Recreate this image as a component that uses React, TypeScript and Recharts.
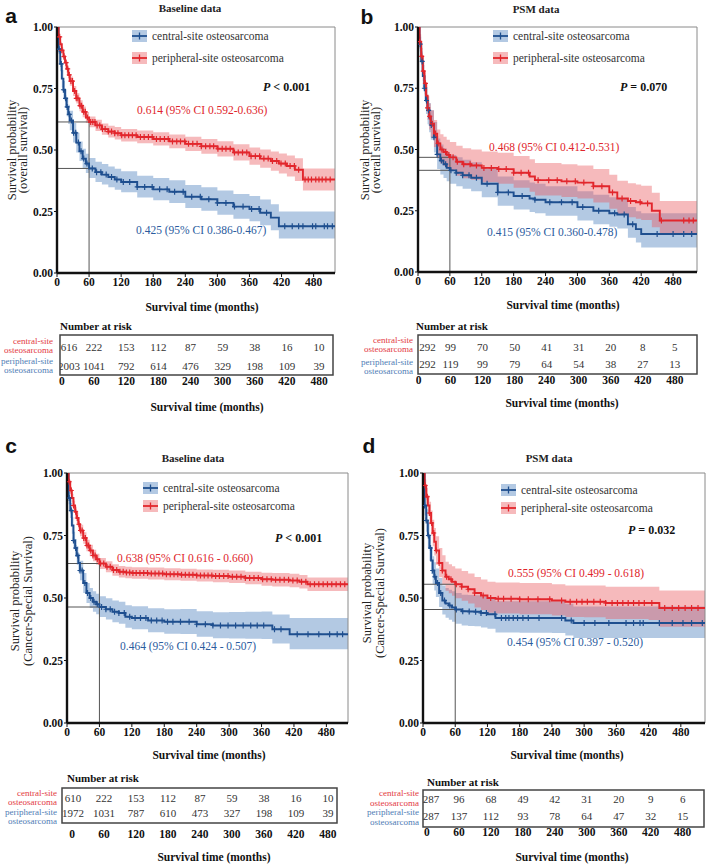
import React from "react";
import {
  ComposedChart,
  Area,
  Line,
  Scatter,
  XAxis,
  YAxis,
  ReferenceLine,
  ReferenceArea,
} from "recharts";

const SERIF = '"Liberation Serif", "Times New Roman", serif';
const SANS = '"Liberation Sans", Arial, sans-serif';

const RED = "#e2262c";
const BLUE = "#1f4f8f";
const RED_BAND = "#ea5a60";
const BLUE_BAND = "#4a7fbd";
const RED_TEXT = "#e0252b";
const BLUE_TEXT = "#2b5b9e";
const ROW_RED = "#e33a3f";
const ROW_BLUE = "#4f7db5";

const X_TICKS = [0, 60, 120, 180, 240, 300, 360, 420, 480];
const Y_TICKS = [0, 0.25, 0.5, 0.75, 1];
const RISK_TIMES = [0, 60, 120, 180, 240, 300, 360, 420, 480];

// ---- a: overall survival, baseline cohort ----
const TIMES_A = [0, 3, 6, 9, 12, 15, 18, 21, 24, 30, 36, 42, 48, 54, 60, 72, 84, 96, 108, 120, 150, 180, 210, 240, 270, 300, 330, 360, 380, 400, 415, 430, 445, 460, 520];
const RED_A = [1, 0.96, 0.93, 0.905, 0.88, 0.855, 0.83, 0.805, 0.78, 0.74, 0.71, 0.68, 0.655, 0.632, 0.614, 0.6, 0.585, 0.575, 0.568, 0.56, 0.553, 0.545, 0.535, 0.525, 0.515, 0.505, 0.49, 0.475, 0.465, 0.455, 0.445, 0.435, 0.42, 0.38, 0.38];
const RED_A_LO = [1, 0.95, 0.92, 0.893, 0.866, 0.84, 0.814, 0.787, 0.761, 0.72, 0.689, 0.658, 0.633, 0.61, 0.592, 0.577, 0.562, 0.551, 0.543, 0.535, 0.527, 0.518, 0.507, 0.496, 0.485, 0.474, 0.457, 0.44, 0.428, 0.416, 0.404, 0.392, 0.374, 0.335, 0.335];
const RED_A_HI = [1, 0.97, 0.94, 0.917, 0.894, 0.87, 0.846, 0.823, 0.799, 0.76, 0.731, 0.702, 0.677, 0.654, 0.636, 0.623, 0.608, 0.599, 0.593, 0.585, 0.579, 0.572, 0.563, 0.554, 0.545, 0.536, 0.523, 0.51, 0.502, 0.494, 0.486, 0.478, 0.466, 0.425, 0.425];
const BLUE_A = [1, 0.91, 0.85, 0.79, 0.745, 0.71, 0.675, 0.645, 0.62, 0.57, 0.53, 0.495, 0.465, 0.445, 0.425, 0.41, 0.4, 0.39, 0.38, 0.37, 0.35, 0.34, 0.33, 0.31, 0.3, 0.285, 0.27, 0.26, 0.245, 0.225, 0.19, 0.19, 0.19, 0.19, 0.19];
const BLUE_A_LO = [1, 0.89, 0.82, 0.755, 0.71, 0.673, 0.637, 0.606, 0.58, 0.53, 0.49, 0.455, 0.426, 0.406, 0.386, 0.37, 0.36, 0.349, 0.338, 0.328, 0.307, 0.296, 0.285, 0.264, 0.253, 0.237, 0.221, 0.21, 0.194, 0.174, 0.14, 0.14, 0.14, 0.14, 0.14];
const BLUE_A_HI = [1, 0.93, 0.88, 0.825, 0.78, 0.747, 0.713, 0.684, 0.66, 0.61, 0.57, 0.535, 0.505, 0.485, 0.467, 0.452, 0.443, 0.433, 0.424, 0.414, 0.395, 0.386, 0.377, 0.358, 0.349, 0.335, 0.321, 0.313, 0.299, 0.279, 0.25, 0.25, 0.25, 0.25, 0.25];
const CENS_RED_A = [5, 9, 13, 17, 20, 23, 26, 29, 33, 36, 39, 43, 46, 50, 53, 57, 63, 67, 71, 75, 80, 85, 90, 96, 102, 108, 114, 121, 127, 134, 141, 148, 156, 163, 171, 178, 186, 193, 201, 208, 216, 224, 231, 239, 246, 254, 262, 270, 278, 286, 293, 301, 309, 316, 324, 332, 339, 347, 355, 363, 371, 379, 387, 395, 403, 411, 419, 427, 436, 444, 452, 464, 470, 476, 484, 490, 496, 503, 511];
const CENS_BLUE_A = [4, 8, 12, 16, 19, 23, 27, 31, 35, 40, 45, 50, 56, 66, 74, 82, 92, 102, 112, 124, 136, 150, 164, 178, 192, 206, 220, 236, 252, 268, 284, 300, 316, 332, 348, 364, 378, 392, 426, 440, 452, 460, 478, 484, 500, 506, 515];
const RISK_CENTRAL_A = [616, 222, 153, 112, 87, 59, 38, 16, 10];
const RISK_PERIPH_A = [2003, 1041, 792, 614, 476, 329, 198, 109, 39];

// ---- b: overall survival, matched cohort ----
const TIMES_B = [0, 3, 6, 9, 12, 15, 18, 21, 24, 30, 36, 42, 48, 54, 60, 72, 84, 100, 120, 150, 180, 210, 220, 240, 270, 300, 330, 360, 375, 395, 410, 420, 440, 455, 525];
const RED_B = [1, 0.94, 0.88, 0.82, 0.77, 0.72, 0.67, 0.635, 0.605, 0.565, 0.525, 0.5, 0.49, 0.478, 0.468, 0.45, 0.44, 0.435, 0.425, 0.42, 0.405, 0.39, 0.375, 0.375, 0.37, 0.365, 0.35, 0.325, 0.3, 0.29, 0.285, 0.28, 0.25, 0.21, 0.21];
const RED_B_LO = [1, 0.91, 0.845, 0.78, 0.725, 0.672, 0.62, 0.582, 0.55, 0.51, 0.468, 0.443, 0.433, 0.421, 0.412, 0.393, 0.383, 0.377, 0.366, 0.36, 0.344, 0.328, 0.312, 0.312, 0.306, 0.3, 0.284, 0.258, 0.233, 0.223, 0.217, 0.212, 0.183, 0.155, 0.155];
const RED_B_HI = [1, 0.97, 0.915, 0.86, 0.815, 0.768, 0.72, 0.688, 0.66, 0.62, 0.582, 0.562, 0.552, 0.54, 0.531, 0.515, 0.505, 0.5, 0.492, 0.487, 0.473, 0.46, 0.445, 0.445, 0.44, 0.435, 0.42, 0.397, 0.372, 0.362, 0.357, 0.352, 0.323, 0.29, 0.29];
const BLUE_B = [1, 0.93, 0.86, 0.8, 0.75, 0.7, 0.66, 0.63, 0.6, 0.55, 0.48, 0.455, 0.44, 0.425, 0.415, 0.405, 0.395, 0.385, 0.36, 0.325, 0.31, 0.3, 0.295, 0.285, 0.285, 0.265, 0.25, 0.24, 0.235, 0.195, 0.175, 0.155, 0.155, 0.155, 0.155];
const BLUE_B_LO = [1, 0.9, 0.82, 0.755, 0.7, 0.645, 0.603, 0.57, 0.54, 0.488, 0.42, 0.398, 0.384, 0.37, 0.36, 0.35, 0.34, 0.33, 0.305, 0.27, 0.255, 0.245, 0.24, 0.23, 0.23, 0.21, 0.195, 0.185, 0.178, 0.14, 0.12, 0.1, 0.1, 0.1, 0.1];
const BLUE_B_HI = [1, 0.96, 0.9, 0.845, 0.8, 0.755, 0.717, 0.69, 0.66, 0.612, 0.545, 0.52, 0.505, 0.488, 0.478, 0.468, 0.458, 0.448, 0.423, 0.39, 0.375, 0.365, 0.36, 0.35, 0.35, 0.33, 0.315, 0.305, 0.3, 0.265, 0.248, 0.24, 0.24, 0.24, 0.24];
const CENS_RED_B = [3, 7, 10, 14, 18, 22, 27, 33, 38, 45, 52, 58, 66, 74, 86, 98, 110, 124, 138, 152, 166, 180, 194, 208, 226, 246, 262, 280, 296, 312, 330, 346, 366, 384, 400, 418, 432, 458, 500, 510, 518];
const CENS_BLUE_B = [4, 8, 12, 16, 20, 25, 30, 36, 44, 52, 62, 72, 84, 96, 110, 130, 150, 170, 196, 220, 248, 270, 290, 310, 340, 370, 388, 404, 450, 480, 500, 515];
const RISK_CENTRAL_B = [292, 99, 70, 50, 41, 31, 20, 8, 5];
const RISK_PERIPH_B = [292, 119, 99, 79, 64, 54, 38, 27, 13];

// ---- c: cancer-specific survival, baseline cohort ----
const TIMES_C = [0, 3, 6, 9, 12, 15, 18, 21, 24, 30, 36, 42, 48, 54, 60, 72, 84, 96, 108, 120, 150, 180, 210, 240, 270, 300, 330, 360, 380, 412, 430, 445, 520];
const RED_C = [1, 0.965, 0.93, 0.9, 0.87, 0.845, 0.82, 0.795, 0.77, 0.74, 0.71, 0.69, 0.67, 0.655, 0.638, 0.625, 0.612, 0.605, 0.602, 0.6, 0.598, 0.595, 0.593, 0.59, 0.588, 0.585, 0.58, 0.575, 0.573, 0.57, 0.565, 0.555, 0.555];
const RED_C_LO = [1, 0.955, 0.915, 0.883, 0.851, 0.825, 0.799, 0.773, 0.747, 0.717, 0.687, 0.667, 0.647, 0.633, 0.616, 0.603, 0.589, 0.582, 0.579, 0.577, 0.574, 0.571, 0.569, 0.566, 0.563, 0.56, 0.555, 0.549, 0.546, 0.543, 0.538, 0.528, 0.528];
const RED_C_HI = [1, 0.975, 0.945, 0.917, 0.889, 0.865, 0.841, 0.817, 0.793, 0.763, 0.733, 0.713, 0.693, 0.677, 0.66, 0.647, 0.635, 0.628, 0.625, 0.623, 0.622, 0.619, 0.617, 0.614, 0.613, 0.61, 0.605, 0.601, 0.6, 0.597, 0.592, 0.582, 0.582];
const BLUE_C = [1, 0.9, 0.85, 0.79, 0.73, 0.7, 0.67, 0.64, 0.61, 0.56, 0.52, 0.5, 0.485, 0.475, 0.464, 0.455, 0.445, 0.44, 0.425, 0.42, 0.41, 0.405, 0.405, 0.395, 0.39, 0.39, 0.39, 0.39, 0.375, 0.355, 0.355, 0.355, 0.355];
const BLUE_C_LO = [1, 0.875, 0.82, 0.757, 0.695, 0.664, 0.633, 0.602, 0.571, 0.52, 0.48, 0.46, 0.445, 0.435, 0.424, 0.414, 0.403, 0.397, 0.381, 0.375, 0.363, 0.357, 0.356, 0.345, 0.339, 0.338, 0.337, 0.336, 0.318, 0.295, 0.295, 0.295, 0.295];
const BLUE_C_HI = [1, 0.925, 0.88, 0.823, 0.765, 0.736, 0.707, 0.678, 0.649, 0.6, 0.56, 0.54, 0.527, 0.517, 0.507, 0.499, 0.49, 0.485, 0.471, 0.467, 0.459, 0.455, 0.456, 0.447, 0.443, 0.444, 0.445, 0.446, 0.434, 0.42, 0.42, 0.42, 0.42];
const CENS_RED_C = [4, 8, 12, 16, 19, 22, 25, 28, 31, 34, 37, 40, 44, 48, 52, 56, 62, 68, 74, 80, 86, 92, 98, 104, 110, 116, 122, 128, 135, 142, 149, 156, 163, 170, 177, 184, 191, 198, 205, 212, 219, 226, 233, 240, 247, 254, 261, 268, 275, 282, 290, 298, 306, 314, 322, 330, 338, 346, 354, 362, 370, 378, 386, 394, 402, 410, 418, 426, 434, 442, 450, 458, 466, 474, 482, 490, 498, 506, 514];
const CENS_BLUE_C = [4, 8, 12, 16, 20, 24, 28, 33, 38, 44, 50, 56, 64, 72, 80, 88, 96, 106, 116, 126, 136, 146, 156, 166, 176, 186, 196, 210, 226, 240, 256, 270, 284, 298, 312, 326, 340, 352, 364, 384, 396, 426, 446, 466, 486, 500, 510];
const RISK_CENTRAL_C = [610, 222, 153, 112, 87, 59, 38, 16, 10];
const RISK_PERIPH_C = [1972, 1031, 787, 610, 473, 327, 198, 109, 39];

// ---- d: cancer-specific survival, matched cohort ----
const TIMES_D = [0, 3, 6, 9, 12, 15, 18, 21, 24, 30, 36, 42, 48, 54, 60, 72, 84, 96, 108, 120, 135, 180, 240, 265, 280, 300, 340, 420, 440, 525];
const RED_D = [1, 0.95, 0.905, 0.87, 0.84, 0.8, 0.76, 0.725, 0.69, 0.64, 0.61, 0.585, 0.575, 0.565, 0.555, 0.545, 0.535, 0.52, 0.51, 0.5, 0.497, 0.495, 0.49, 0.485, 0.485, 0.485, 0.48, 0.48, 0.46, 0.46];
const RED_D_LO = [1, 0.925, 0.87, 0.83, 0.795, 0.75, 0.707, 0.67, 0.633, 0.583, 0.553, 0.529, 0.519, 0.509, 0.499, 0.489, 0.478, 0.462, 0.452, 0.441, 0.438, 0.435, 0.43, 0.424, 0.424, 0.423, 0.416, 0.412, 0.385, 0.385];
const RED_D_HI = [1, 0.975, 0.94, 0.91, 0.885, 0.85, 0.813, 0.78, 0.747, 0.7, 0.671, 0.645, 0.635, 0.627, 0.618, 0.608, 0.598, 0.584, 0.574, 0.565, 0.562, 0.56, 0.555, 0.55, 0.55, 0.55, 0.545, 0.545, 0.53, 0.53];
const BLUE_D = [1, 0.87, 0.81, 0.75, 0.7, 0.65, 0.61, 0.585, 0.56, 0.52, 0.49, 0.478, 0.47, 0.462, 0.454, 0.447, 0.446, 0.445, 0.44, 0.435, 0.42, 0.42, 0.42, 0.41, 0.4, 0.4, 0.4, 0.4, 0.4, 0.4];
const BLUE_D_LO = [1, 0.83, 0.765, 0.7, 0.648, 0.596, 0.555, 0.53, 0.504, 0.464, 0.434, 0.421, 0.413, 0.405, 0.397, 0.39, 0.388, 0.387, 0.382, 0.377, 0.362, 0.361, 0.36, 0.35, 0.34, 0.34, 0.34, 0.34, 0.34, 0.34];
const BLUE_D_HI = [1, 0.91, 0.855, 0.8, 0.752, 0.705, 0.667, 0.643, 0.618, 0.58, 0.55, 0.54, 0.533, 0.527, 0.52, 0.513, 0.512, 0.511, 0.506, 0.5, 0.487, 0.487, 0.487, 0.477, 0.466, 0.466, 0.466, 0.466, 0.466, 0.466];
const CENS_RED_D = [4, 8, 12, 16, 20, 25, 30, 36, 44, 52, 62, 72, 84, 96, 112, 126, 140, 150, 164, 180, 196, 214, 236, 258, 274, 286, 296, 306, 318, 330, 340, 352, 362, 372, 382, 392, 402, 412, 426, 450, 464, 476, 488, 500, 512];
const CENS_BLUE_D = [3, 6, 10, 14, 18, 22, 27, 33, 40, 50, 62, 74, 86, 98, 108, 118, 134, 146, 154, 160, 168, 176, 186, 196, 216, 258, 276, 300, 320, 346, 378, 392, 404, 410, 440, 464, 484, 500, 520];
const RISK_CENTRAL_D = [287, 96, 68, 49, 42, 31, 20, 9, 6];
const RISK_PERIPH_D = [287, 137, 112, 93, 78, 64, 47, 32, 15];

const P_TEXT = ["< 0.001", "= 0.070", "< 0.001", "= 0.032"];
const TITLES = ["Baseline data", "PSM data", "Baseline data", "PSM data"];
const LETTERS = ["a", "b", "c", "d"];
const Y_SUB = ["(overall survival)", "(overall survival)", "(Cancer-Special Survival)", "(Cancer-Special Survival)"];
const CI_SEP = ["-", "-", " - ", " - "];

const KM = [
  { times: TIMES_A, red: RED_A, redLo: RED_A_LO, redHi: RED_A_HI, blue: BLUE_A, blueLo: BLUE_A_LO, blueHi: BLUE_A_HI, redCens: CENS_RED_A, blueCens: CENS_BLUE_A, central: RISK_CENTRAL_A, periph: RISK_PERIPH_A },
  { times: TIMES_B, red: RED_B, redLo: RED_B_LO, redHi: RED_B_HI, blue: BLUE_B, blueLo: BLUE_B_LO, blueHi: BLUE_B_HI, redCens: CENS_RED_B, blueCens: CENS_BLUE_B, central: RISK_CENTRAL_B, periph: RISK_PERIPH_B },
  { times: TIMES_C, red: RED_C, redLo: RED_C_LO, redHi: RED_C_HI, blue: BLUE_C, blueLo: BLUE_C_LO, blueHi: BLUE_C_HI, redCens: CENS_RED_C, blueCens: CENS_BLUE_C, central: RISK_CENTRAL_C, periph: RISK_PERIPH_C },
  { times: TIMES_D, red: RED_D, redLo: RED_D_LO, redHi: RED_D_HI, blue: BLUE_D, blueLo: BLUE_D_LO, blueHi: BLUE_D_HI, redCens: CENS_RED_D, blueCens: CENS_BLUE_D, central: RISK_CENTRAL_D, periph: RISK_PERIPH_D },
];

// page positions of each panel's plot box, risk table and annotations
const LAYOUT = [
  {
    plot: { left: 57, top: 27, right: 335, bottom: 273 }, xMax: 520,
    letter: [11, 15], title: [190, 8], legend: { x: 132, y: [36, 58] }, p: [263, 87],
    ciRed: [137, 110], ciBlue: [136, 230], yLab: { x: [12, 23], y: 150 }, xTitle: [202, 307],
    box: { left: 60, top: 335, right: 333, bottom: 375 }, boxDomain: [-3.7, 506], rowY: [0.7, 0.225], firstDx: 7, tickMargin: 2,
    nar: [60, 326], rowLab: { x: 53, y: [341, 350, 361, 370] }, tTitle: [207, 407],
  },
  {
    plot: { left: 418, top: 27, right: 697, bottom: 272 }, xMax: 525,
    letter: [367, 16], title: [536, 9], legend: { x: 493, y: [36, 58] }, p: [620, 87],
    ciRed: [489, 147], ciBlue: [487, 232], yLab: { x: [365, 376], y: 150 }, xTitle: [563, 305],
    box: { left: 418, top: 335, right: 697, bottom: 374 }, boxDomain: [-1, 521.5], rowY: [0.7, 0.25], firstDx: 9, tickMargin: 2,
    nar: [416, 326], rowLab: { x: 413, y: [340, 349, 362, 371] }, tTitle: [562, 403],
  },
  {
    plot: { left: 67, top: 473, right: 348, bottom: 723 }, xMax: 520,
    letter: [11, 445], title: [193, 458], legend: { x: 143, y: [488, 506] }, p: [275, 538],
    ciRed: [117, 558], ciBlue: [120, 646], yLab: { x: [15, 28], y: 601 }, xTitle: [209, 755],
    box: { left: 62, top: 788, right: 337, bottom: 823 }, boxDomain: [-18.8, 497], rowY: [0.714, 0.286], firstDx: 1, tickMargin: 7,
    nar: [67, 778], rowLab: { x: 57, y: [793, 802, 812, 821] }, tTitle: [214, 857],
  },
  {
    plot: { left: 423, top: 473, right: 705, bottom: 723 }, xMax: 525,
    letter: [369, 445], title: [549, 458], legend: { x: 501, y: [490, 508] }, p: [628, 530],
    ciRed: [508, 573], ciBlue: [507, 642], yLab: { x: [367, 380], y: 593 }, xTitle: [567, 755],
    box: { left: 423, top: 790, right: 704, bottom: 827 }, boxDomain: [-7.5, 520], rowY: [0.757, 0.297], firstDx: 4, tickMargin: 1,
    nar: [427, 782], rowLab: { x: 419, y: [793, 803, 812, 822] }, tTitle: [572, 857],
  },
];

const Y_W = 44;
const PAD_T = 6;
const PAD_R = 6;
const X_H = 24;

const TICK = { fontSize: 11.5, fontFamily: SERIF, fontWeight: 700, fill: "#111" };

// value of a step curve at time t (last recorded value at or before t)
function stepAt(times: number[], vals: number[], t: number) {
  let v = vals[0];
  for (let i = 0; i < times.length; i++) {
    if (times[i] <= t) v = vals[i];
    else break;
  }
  return v;
}

// censoring tick: a small "+" in the series colour
function PlusMark(props: any) {
  const { cx, cy, fill } = props;
  if (cx == null || cy == null) return null;
  return <path d={`M${cx - 2.5},${cy}h5M${cx},${cy - 3}v6`} stroke={fill} strokeWidth={1.2} fill="none" />;
}

function KmPlot({ km, lay }: { km: any; lay: any }) {
  const { left, top, right, bottom } = lay.plot;
  const rows = km.times.map((t: number, i: number) => ({
    t,
    red: km.red[i],
    blue: km.blue[i],
    redBand: [km.redLo[i], km.redHi[i]],
    blueBand: [km.blueLo[i], km.blueHi[i]],
  }));
  const redCens = km.redCens.map((t: number) => ({ t, s: stepAt(km.times, km.red, t) }));
  const blueCens = km.blueCens.map((t: number) => ({ t, s: stepAt(km.times, km.blue, t) }));
  const r60 = stepAt(km.times, km.red, 60);
  const b60 = stepAt(km.times, km.blue, 60);
  const axis = { stroke: "#111", strokeWidth: 2.4 };

  return (
    <div style={{ position: "absolute", left: left - Y_W, top: top - PAD_T }}>
      <ComposedChart
        width={right - left + Y_W + PAD_R}
        height={bottom - top + PAD_T + X_H}
        data={rows}
        margin={{ top: PAD_T, right: PAD_R, bottom: 0, left: 0 }}
      >
        <XAxis
          type="number"
          dataKey="t"
          domain={[0, lay.xMax]}
          ticks={X_TICKS}
          interval={0}
          allowDataOverflow
          height={X_H}
          tickSize={4}
          tickMargin={1}
          axisLine={axis}
          tickLine={{ stroke: "#111" }}
          tick={TICK}
        />
        <YAxis
          type="number"
          domain={[0, 1]}
          ticks={Y_TICKS}
          interval={0}
          allowDataOverflow
          width={Y_W}
          tickSize={3}
          tickMargin={1}
          tickFormatter={(v: number) => v.toFixed(2)}
          axisLine={axis}
          tickLine={{ stroke: "#111" }}
          tick={TICK}
        />
        <ReferenceLine y={1} stroke="#8a8a8a" strokeWidth={1} />
        <ReferenceLine x={lay.xMax} stroke="#8a8a8a" strokeWidth={1} />
        <Area type="stepAfter" dataKey="blueBand" stroke="none" fill={BLUE_BAND} fillOpacity={0.42} isAnimationActive={false} />
        <Area type="stepAfter" dataKey="redBand" stroke="none" fill={RED_BAND} fillOpacity={0.42} isAnimationActive={false} />
        <ReferenceLine segment={[{ x: 60, y: 0 }, { x: 60, y: Math.max(r60, b60) }]} stroke="#555" strokeWidth={1} />
        <ReferenceLine segment={[{ x: 0, y: r60 }, { x: 60, y: r60 }]} stroke="#555" strokeWidth={1} />
        <ReferenceLine segment={[{ x: 0, y: b60 }, { x: 60, y: b60 }]} stroke="#555" strokeWidth={1} />
        <Line type="stepAfter" dataKey="blue" stroke={BLUE} strokeWidth={1.9} dot={false} isAnimationActive={false} />
        <Line type="stepAfter" dataKey="red" stroke={RED} strokeWidth={1.9} dot={false} isAnimationActive={false} />
        <Scatter data={blueCens} dataKey="s" fill={BLUE} shape={PlusMark} isAnimationActive={false} />
        <Scatter data={redCens} dataKey="s" fill={RED} shape={PlusMark} isAnimationActive={false} />
      </ComposedChart>
    </div>
  );
}

function RiskTable({ km, lay }: { km: any; lay: any }) {
  const { left, top, right, bottom } = lay.box;
  const pad = 2;
  const cells = [
    ...km.central.map((n: number, i: number) => ({ t: RISK_TIMES[i], v: lay.rowY[0], n })),
    ...km.periph.map((n: number, i: number) => ({ t: RISK_TIMES[i], v: lay.rowY[1], n })),
  ];
  const Cell = (props: any) => {
    const { cx, cy, payload } = props;
    if (cx == null) return null;
    return (
      <text
        x={cx + (payload.t === 0 ? lay.firstDx : 0)}
        y={cy}
        textAnchor="middle"
        dominantBaseline="central"
        fontFamily={SERIF}
        fontSize={11}
        fill="#333"
      >
        {payload.n}
      </text>
    );
  };
  return (
    <div style={{ position: "absolute", left: left - pad, top: top - pad }}>
      <ComposedChart
        width={right - left + pad * 2}
        height={bottom - top + pad + 22}
        margin={{ top: pad, right: pad, bottom: 0, left: pad }}
      >
        <XAxis
          type="number"
          dataKey="t"
          domain={lay.boxDomain}
          ticks={X_TICKS}
          interval={0}
          allowDataOverflow
          height={22}
          tickSize={0}
          tickMargin={lay.tickMargin}
          axisLine={false}
          tick={TICK}
        />
        <YAxis type="number" domain={[0, 1]} hide />
        <ReferenceArea
          x1={lay.boxDomain[0]}
          x2={lay.boxDomain[1]}
          y1={0}
          y2={1}
          fill="none"
          fillOpacity={0}
          stroke="#444"
          strokeWidth={1.5}
        />
        <Scatter data={cells} dataKey="v" shape={Cell} isAnimationActive={false} />
      </ComposedChart>
    </div>
  );
}

// "0.614 (95% CI 0.592-0.636)" at 60 months
function ciLabel(times: number[], est: number[], lo: number[], hi: number[], sep: string) {
  const e = stepAt(times, est, 60).toFixed(3);
  const l = stepAt(times, lo, 60).toFixed(3);
  const h = stepAt(times, hi, 60).toFixed(3);
  return `${e} (95% CI ${l}${sep}${h})`;
}

function Swatch({ x, y, band, line }: { x: number; y: number; band: string; line: string }) {
  return (
    <g>
      <rect x={x} y={y - 6} width={15} height={12} fill={band} fillOpacity={0.42} />
      <line x1={x} x2={x + 15} y1={y} y2={y} stroke={line} strokeWidth={1.8} />
      <path d={`M${x + 7.5},${y - 3.5}v7`} stroke={line} strokeWidth={1.3} />
    </g>
  );
}

function Annotations({ km, lay, i }: { km: any; lay: any; i: number }) {
  const lab = { fontFamily: SERIF, fontSize: 11.5, dominantBaseline: "central" as const };
  return (
    <g>
      <text x={lay.letter[0]} y={lay.letter[1]} textAnchor="middle" dominantBaseline="central" fontFamily={SANS} fontWeight={700} fontSize={21} fill="#111">
        {LETTERS[i]}
      </text>
      <text x={lay.title[0]} y={lay.title[1]} textAnchor="middle" dominantBaseline="central" fontFamily={SERIF} fontWeight={700} fontSize={11} fill="#222">
        {TITLES[i]}
      </text>
      <Swatch x={lay.legend.x} y={lay.legend.y[0]} band={BLUE_BAND} line={BLUE} />
      <Swatch x={lay.legend.x} y={lay.legend.y[1]} band={RED_BAND} line={RED} />
      <text x={lay.legend.x + 20} y={lay.legend.y[0]} {...lab} fill="#333">central-site osteosarcoma</text>
      <text x={lay.legend.x + 20} y={lay.legend.y[1]} {...lab} fill="#333">peripheral-site osteosarcoma</text>
      <text x={lay.p[0]} y={lay.p[1]} dominantBaseline="central" fontFamily={SERIF} fontSize={12} fontWeight={700} fill="#111">
        <tspan fontStyle="italic">P</tspan>
        <tspan> {P_TEXT[i]}</tspan>
      </text>
      <text x={lay.ciRed[0]} y={lay.ciRed[1]} {...lab} fill={RED_TEXT}>
        {ciLabel(km.times, km.red, km.redLo, km.redHi, CI_SEP[i])}
      </text>
      <text x={lay.ciBlue[0]} y={lay.ciBlue[1]} {...lab} fill={BLUE_TEXT}>
        {ciLabel(km.times, km.blue, km.blueLo, km.blueHi, CI_SEP[i])}
      </text>
      <text transform={`translate(${lay.yLab.x[0]},${lay.yLab.y}) rotate(-90)`} textAnchor="middle" dominantBaseline="central" fontFamily={SERIF} fontSize={12.5} fill="#222">
        Survival probability
      </text>
      <text transform={`translate(${lay.yLab.x[1]},${lay.yLab.y}) rotate(-90)`} textAnchor="middle" dominantBaseline="central" fontFamily={SERIF} fontSize={12.5} fill="#222">
        {Y_SUB[i]}
      </text>
      <text x={lay.xTitle[0]} y={lay.xTitle[1]} textAnchor="middle" dominantBaseline="central" fontFamily={SERIF} fontWeight={700} fontSize={11.5} fill="#111">
        Survival time (months)
      </text>
      <text x={lay.nar[0]} y={lay.nar[1]} dominantBaseline="central" fontFamily={SERIF} fontWeight={700} fontSize={11} fill="#111">
        Number at risk
      </text>
      {["central-site", "osteosarcoma", "peripheral-site", "osteosarcoma"].map((s, k) => (
        <text key={k} x={lay.rowLab.x} y={lay.rowLab.y[k]} textAnchor="end" dominantBaseline="central" fontFamily={SERIF} fontSize={9} fill={k < 2 ? ROW_RED : ROW_BLUE}>
          {s}
        </text>
      ))}
      <text x={lay.tTitle[0]} y={lay.tTitle[1]} textAnchor="middle" dominantBaseline="central" fontFamily={SERIF} fontWeight={700} fontSize={11.5} fill="#111">
        Survival time (months)
      </text>
    </g>
  );
}

export default function App() {
  return (
    <div style={{ position: "absolute", left: 0, top: 0, width: 709, height: 864, background: "#fff", overflow: "hidden", fontFamily: SERIF }}>
      {KM.map((km, i) => (
        <React.Fragment key={i}>
          <KmPlot km={km} lay={LAYOUT[i]} />
          <RiskTable km={km} lay={LAYOUT[i]} />
        </React.Fragment>
      ))}
      <svg width={709} height={864} style={{ position: "absolute", left: 0, top: 0, pointerEvents: "none" }}>
        {KM.map((km, i) => (
          <Annotations key={i} km={km} lay={LAYOUT[i]} i={i} />
        ))}
      </svg>
    </div>
  );
}
